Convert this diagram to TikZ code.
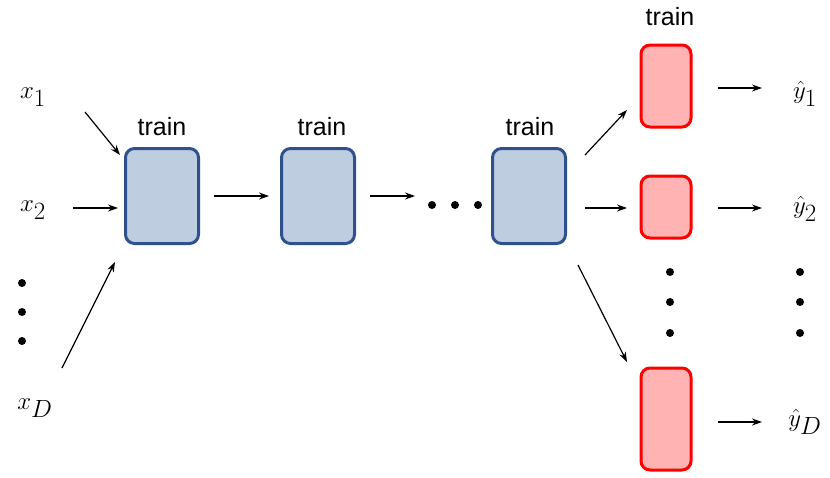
\documentclass[tikz,border=0pt]{standalone}
\usepackage{fontspec}
\setmainfont{Liberation Sans}
\usetikzlibrary{arrows.meta}
\definecolor{bfill}{HTML}{BFCDE0}
\definecolor{bdraw}{HTML}{2F528F}
\definecolor{rfill}{HTML}{FFB3B3}
\begin{document}
\begin{tikzpicture}[x=1pt,y=-1pt,
 bbox/.style={draw=bdraw,fill=bfill,line width=3pt,rounded corners=9pt,minimum width=73pt,minimum height=95pt,inner sep=0},
 rbox/.style={draw=red,fill=rfill,line width=3pt,rounded corners=9pt,minimum width=50pt,inner sep=0},
 lab/.style={font=\fontsize{25}{28}\selectfont},
 mth/.style={font=\fontsize{42}{48}\selectfont},
 arr/.style={-{Stealth[length=10pt,width=7pt]},line width=1.2pt},
 dot/.style={circle,fill=black,inner sep=0,minimum size=8pt}]
\useasboundingbox (0,0) rectangle (830,477);
\node[bbox] (b1) at (162,196) {};
\node[bbox] (b2) at (318,196) {};
\node[bbox] (b3) at (529,196) {};
\node[rbox,minimum height=82pt] (r1) at (666,86) {};
\node[rbox,minimum height=62pt] (r2) at (666,207) {};
\node[rbox,minimum height=102pt] (r3) at (666,419) {};
\node[lab] (t1) at (162,127) {train};
\node[lab] (t2) at (322,127) {train};
\node[lab] (t3) at (530,127) {train};
\node[lab] (t4) at (670,17) {train};
\node[mth] (x1) at (33,97) {$x_1$};
\node[mth] (x2) at (33,210) {$x_2$};
\node[mth] (xD) at (35,408) {$x_D$};
\node[mth] (y1) at (805,94) {$\hat y_1$};
\node[mth] (y2) at (805,209) {$\hat y_2$};
\node[mth] (yD) at (805,422) {$\hat y_D$};
\foreach \y [count=\i] in {283,312,341}{\node[dot] (dl\i) at (22,\y) {};}
\foreach \x [count=\i] in {432,455,478}{\node[dot] (dm\i) at (\x,205) {};}
\foreach \y [count=\i] in {272,302,333}{\node[dot] (dr\i) at (670,\y) {}; \node[dot] (dy\i) at (800,\y) {};}
\coordinate (a1) at (85,112); \coordinate (a1e) at (120,155);
\coordinate (a2) at (73,208); \coordinate (a2e) at (118,208);
\coordinate (a3) at (62,368); \coordinate (a3e) at (115,262);
\draw[arr] (a1) -- (a1e);
\draw[arr] (a2) -- (a2e);
\draw[arr] (a3) -- (a3e);
\draw[arr] (b1.east)++(14,0) coordinate (c1) (c1) -- ++(55,0) coordinate (c1e);
\draw[arr] (b2.east)++(14,0) coordinate (c2) (c2) -- ++(45,0) coordinate (c2e);
\coordinate (e1) at (585,155); \coordinate (e1e) at (627,110);
\coordinate (e2) at (585,208); \coordinate (e2e) at (627,208);
\coordinate (e3) at (578,265); \coordinate (e3e) at (627,362);
\draw[arr] (e1) -- (e1e);
\draw[arr] (e2) -- (e2e);
\draw[arr] (e3) -- (e3e);
\coordinate (f1) at (718,88); \coordinate (f1e) at (762,88);
\coordinate (f2) at (718,208); \coordinate (f2e) at (762,208);
\coordinate (f3) at (718,422); \coordinate (f3e) at (762,422);
\draw[arr] (f1) -- (f1e);
\draw[arr] (f2) -- (f2e);
\draw[arr] (f3) -- (f3e);
\end{tikzpicture}
\end{document}
